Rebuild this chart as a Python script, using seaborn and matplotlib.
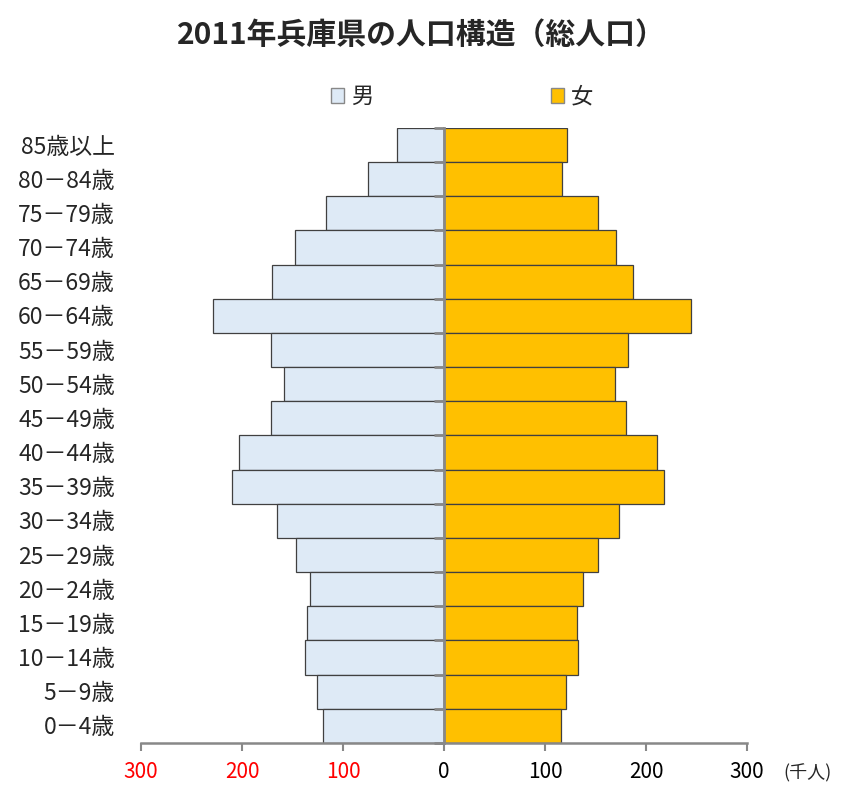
import pandas as pd
import seaborn as sns
import matplotlib.pyplot as plt
import matplotlib.transforms as mtransforms
from matplotlib.patches import Patch

# Age groups, top of the pyramid first
ages = ["85歳以上", "80－84歳", "75－79歳", "70－74歳", "65－69歳", "60－64歳",
        "55－59歳", "50－54歳", "45－49歳", "40－44歳", "35－39歳", "30－34歳",
        "25－29歳", "20－24歳", "15－19歳", "10－14歳", "5－9歳", "0－4歳"]

# Population in thousands
male = [47, 75, 117, 148, 170, 229, 171.5, 158, 171, 203, 210, 165,
        147, 133, 136, 138, 126, 120]
female = [122, 116.5, 152, 170, 187, 245, 182, 169, 180, 211, 218, 173,
          152, 138, 132, 133, 121, 115.5]

x_ticks = [-300, -200, -100, 0, 100, 200, 300]
x_tick_labels = ["300", "200", "100", "0", "100", "200", "300"]

df = pd.DataFrame({"age": ages, "male": [-v for v in male], "female": female})

sns.set_style("white")
plt.rcParams['font.family'] = ['Noto Sans CJK JP', 'DejaVu Sans']

male_color = "#DEEAF6"
female_color = "#FFC000"
edge = "#404040"
grey = "#888888"

fig = plt.figure(figsize=(8.42, 7.87), dpi=100)
ax = fig.add_axes([0.1675, 0.0559, 0.7197, 0.7815])

sns.barplot(data=df, x="male", y="age", orient="h", color=male_color, width=1.0,
            edgecolor=edge, linewidth=0.9, saturation=1, ax=ax)
sns.barplot(data=df, x="female", y="age", orient="h", color=female_color, width=1.0,
            edgecolor=edge, linewidth=0.9, saturation=1, ax=ax)

ax.set_xlim(-300, 300)
ax.set_ylim(len(ages) - 0.5, -0.5)
ax.set_xlabel("")
ax.set_ylabel("")

# x axis: grey spine, outward ticks, red labels on the male side
ax.set_xticks(x_ticks, labels=x_tick_labels)
ax.tick_params(axis="x", bottom=True, length=6, width=1.5, color=grey,
               direction="out", pad=7, labelsize=15)
for lbl, val in zip(ax.get_xticklabels(), x_ticks):
    lbl.set_color("red" if val < 0 else "black")

for side in ["top", "right"]:
    ax.spines[side].set_visible(False)
ax.spines["bottom"].set_color(grey)
ax.spines["bottom"].set_linewidth(1.8)
ax.spines["bottom"].set_zorder(5)

# centre axis line at 0 with small ticks between the age groups
ax.spines["left"].set_position(("data", 0))
ax.spines["left"].set_color(grey)
ax.spines["left"].set_linewidth(2)
ax.spines["left"].set_zorder(5)
ax.set_axisbelow(False)
ax.set_yticks(range(len(ages)), labels=[])
ax.set_yticks([i - 0.5 for i in range(len(ages) + 1)], minor=True)
ax.tick_params(axis="y", which="major", left=False, length=0)
ax.tick_params(axis="y", which="minor", left=True, length=7, width=2,
               color=grey, direction="out")

# age labels sit left of the plot area
trans = mtransforms.blended_transform_factory(ax.transAxes, ax.transData)
for i, age in enumerate(ages):
    ax.text(-0.043, i + 0.06, age, transform=trans, ha="right", va="center",
            fontsize=16.5)

# title, legend and unit label
fig.text(0.5, 0.955, "2011年兵庫県の人口構造（総人口）", ha="center", va="center",
         fontsize=21.5, fontweight="bold")

handles = [Patch(facecolor=male_color, edgecolor=grey, label="男"),
           Patch(facecolor=female_color, edgecolor=grey, label="女")]
fig.legend(handles=handles, loc="center", bbox_to_anchor=(0.549, 0.877), ncol=2,
           frameon=False, fontsize=16, handlelength=0.6, handleheight=0.6,
           handletextpad=0.3, columnspacing=8)

fig.text(0.930, 0.018, "(千人)", ha="left", va="center", fontsize=13)

plt.savefig("out.png", dpi=100)
